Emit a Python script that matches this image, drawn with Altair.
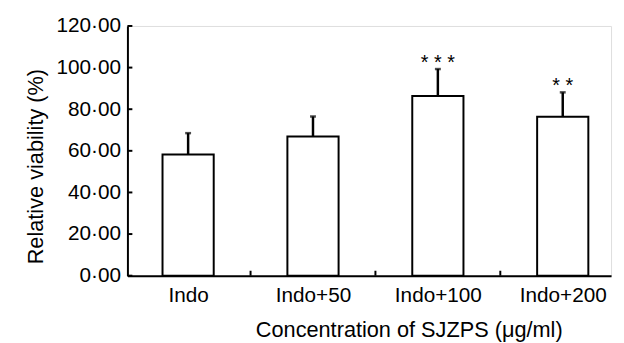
import altair as alt
import pandas as pd

categories = ["Indo", "Indo+50", "Indo+100", "Indo+200"]
means = [58.2, 66.9, 86.3, 76.4]
sds = [10.3, 9.6, 13.0, 11.7]
stars = ["", "", "* * *", "* *"]
y_ticks = [0, 20, 40, 60, 80, 100, 120]

FONT = "Liberation Sans"
HALF = 0.205

df = pd.DataFrame({
    "idx": list(range(len(categories))),
    "cat": categories,
    "mean": means,
    "sd": sds,
    "star": stars,
})
df["upper"] = df["mean"] + df["sd"]
df["left"] = df["idx"] - HALF
df["right"] = df["idx"] + HALF

bounds = pd.DataFrame({"b": [i + 0.5 for i in range(len(categories) - 1)]})
yt = pd.DataFrame({"v": y_ticks})

W, H = 490, 253
xscale = alt.Scale(domain=[-0.486, 3.387], nice=False, zero=False)
yscale = alt.Scale(domain=[0, 120], nice=False)

label_arr = "[" + ",".join("'" + c + "'" for c in categories) + "]"

xaxis = alt.Axis(
    values=list(range(len(categories))),
    labelExpr=label_arr + "[datum.value]",
    ticks=False, grid=False,
    domainColor="black", domainWidth=2,
    labelFont=FONT, labelFontSize=21, labelColor="black",
    labelBaseline="alphabetic", labelPadding=26,
    title="Concentration of SJZPS (μg/ml)",
    titleFont=FONT, titleFontSize=22, titleFontWeight="normal", titleColor="black",
    titleX=285, titleY=62, titleAlign="center", titleBaseline="alphabetic",
)
yaxis = alt.Axis(
    values=y_ticks,
    labelExpr="replace(format(datum.value, '.2f'), '.', '·')",
    ticks=False, grid=False,
    domainColor="black", domainWidth=2,
    labelFont=FONT, labelFontSize=21, labelColor="black",
    labelPadding=7,
    title="Relative viability (%)",
    titleFont=FONT, titleFontSize=22, titleFontWeight="normal", titleColor="black",
    titleX=-86, titleY=142, titleAngle=270, titleAlign="center", titleBaseline="alphabetic",
)

base = alt.Chart(df)

bars = base.mark_rect(fill="white", stroke="black", strokeWidth=2).encode(
    x=alt.X("left:Q", scale=xscale, axis=xaxis),
    x2="right:Q",
    y=alt.Y("mean:Q", scale=yscale, axis=yaxis),
    y2=alt.datum(0),
)

err = base.mark_rule(color="black", strokeWidth=2.5).encode(
    x=alt.X("idx:Q", scale=xscale),
    y=alt.Y("mean:Q", scale=yscale),
    y2="upper:Q",
)

caps = base.mark_tick(color="black", orient="horizontal", size=6, thickness=2.5).encode(
    x=alt.X("idx:Q", scale=xscale),
    y=alt.Y("upper:Q", scale=yscale),
)

star_text = base.mark_text(font=FONT, fontSize=20, color="black", baseline="alphabetic", dy=0).encode(
    x=alt.X("idx:Q", scale=xscale),
    y=alt.Y("upper:Q", scale=yscale),
    text="star:N",
)

xticks = alt.Chart(bounds).mark_rule(color="black", strokeWidth=2).encode(
    x=alt.X("b:Q", scale=xscale),
    y=alt.value(H),
    y2=alt.value(H - 5),
)

yticks = alt.Chart(yt).mark_rule(color="black", strokeWidth=2).encode(
    y=alt.Y("v:Q", scale=yscale),
    x=alt.value(0),
    x2=alt.value(5),
)

chart = alt.layer(bars, err, caps, star_text, xticks, yticks).properties(
    width=W, height=H,
    autosize=alt.AutoSizeParams(type="none"),
    padding={"left": 121, "top": 16, "right": 5, "bottom": 66},
).configure_view(stroke=None).configure(background="white")

chart.save("out.html", embed_options={"renderer": "svg", "actions": False})
